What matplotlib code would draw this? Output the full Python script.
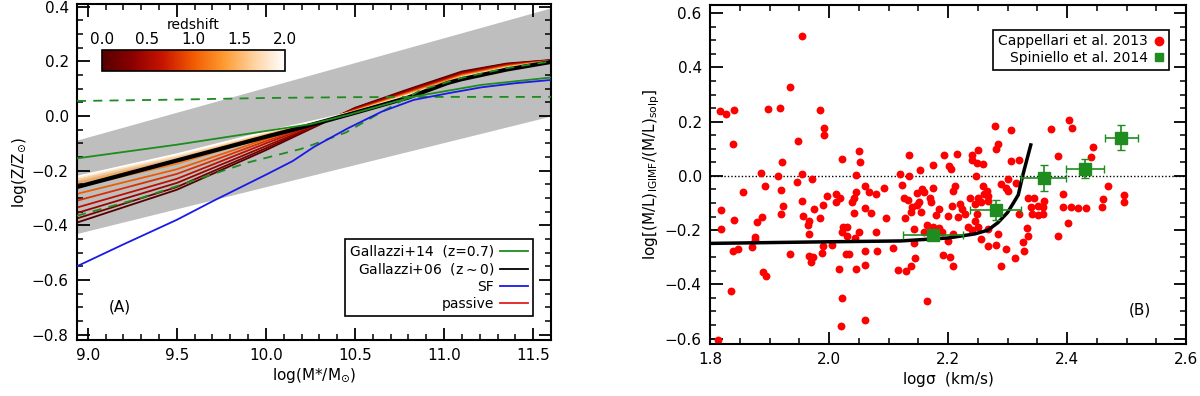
import numpy as np
import matplotlib
matplotlib.use('Agg')
import matplotlib.pyplot as plt
from matplotlib.colors import LinearSegmentedColormap, Normalize
from matplotlib.ticker import MultipleLocator
from matplotlib.lines import Line2D

plt.rcParams['font.family'] = 'DejaVu Sans'
plt.rcParams['mathtext.default'] = 'regular'

# ---------------- panel A data ----------------
band_x = [8.94, 11.6]
band_lo = [-0.43, 0.0]
band_hi = [-0.088, 0.396]

gal06_x = [8.94, 9.5, 10.0, 10.19, 10.5, 10.65, 10.8, 11.02, 11.1, 11.35, 11.6]
gal06_y = [-0.26, -0.163, -0.076, -0.044, 0.012, 0.040, 0.068, 0.121, 0.135, 0.17, 0.198]

gal14_x = [8.94, 9.5, 10.0, 10.25, 10.46, 10.83, 11.21, 11.6]
gal14_y = [-0.155, -0.105, -0.055, -0.030, 0.004, 0.071, 0.114, 0.141]

gal14_hi_x = [8.94, 9.5, 10.0, 10.5, 11.0, 11.6]
gal14_hi_y = [0.055, 0.060, 0.066, 0.069, 0.070, 0.070]

gal14_lo_x = [8.94, 9.3, 9.6, 9.9, 10.2, 10.45, 10.65, 10.87, 11.1, 11.35, 11.6]
gal14_lo_y = [-0.365, -0.30, -0.235, -0.17, -0.12, -0.06, 0.015, 0.095, 0.14, 0.175, 0.20]

sf_x = [8.94, 9.2, 9.5, 9.71, 10.0, 10.15, 10.27, 10.46, 10.65, 10.83, 11.02, 11.21, 11.4, 11.6]
sf_y = [-0.55, -0.47, -0.38, -0.309, -0.215, -0.165, -0.113, -0.045, 0.016, 0.059, 0.083, 0.105, 0.12, 0.132]

# passive models, one row per redshift
fan_z = [0.0, 0.2, 0.4, 0.6, 0.8, 1.0, 1.2, 1.4, 1.6, 1.8, 2.0]
fan_x = [8.94, 9.5, 10.0, 10.5, 10.8, 11.1, 11.35, 11.6]
fan_y = [
    [-0.390, -0.270, -0.125, 0.030, 0.098, 0.163, 0.192, 0.205],
    [-0.375, -0.260, -0.118, 0.028, 0.095, 0.160, 0.190, 0.204],
    [-0.355, -0.245, -0.110, 0.026, 0.092, 0.157, 0.188, 0.204],
    [-0.335, -0.230, -0.100, 0.024, 0.089, 0.154, 0.186, 0.203],
    [-0.310, -0.212, -0.092, 0.022, 0.086, 0.151, 0.184, 0.203],
    [-0.285, -0.195, -0.085, 0.020, 0.084, 0.149, 0.182, 0.202],
    [-0.260, -0.175, -0.076, 0.019, 0.082, 0.147, 0.180, 0.202],
    [-0.245, -0.160, -0.068, 0.018, 0.080, 0.145, 0.179, 0.201],
    [-0.235, -0.150, -0.063, 0.017, 0.078, 0.143, 0.177, 0.201],
    [-0.228, -0.145, -0.060, 0.016, 0.076, 0.141, 0.176, 0.200],
    [-0.222, -0.140, -0.058, 0.015, 0.075, 0.140, 0.175, 0.200],
]

# ---------------- panel B data ----------------
capp_x = [1.955, 1.934, 1.817, 1.827, 1.841, 1.898, 1.917, 1.984, 1.992, 1.992, 1.839, 1.947,
          1.921, 1.886, 1.915, 1.955, 1.893, 1.946, 1.972, 1.855, 1.919, 1.818, 1.954, 1.997,
          1.990, 1.922, 1.920, 1.887, 1.879, 1.841, 1.819, 1.956, 1.975, 1.966, 1.965, 1.984,
          1.966, 1.875, 1.875, 1.838, 1.847, 1.871, 1.935, 1.966, 1.973, 1.970, 1.988, 1.990,
          1.889, 1.894, 1.836, 1.813,
          2.021, 2.050, 2.052, 2.046, 2.135, 2.194, 2.174, 2.153, 2.120, 2.134, 2.061, 2.067,
          2.079, 2.093, 2.123, 2.174, 2.156, 2.159, 2.147, 2.170, 2.171, 2.126, 2.132, 2.152,
          2.148, 2.140, 2.138, 2.155, 2.184, 2.179, 2.011, 2.019, 2.011, 2.045, 2.042, 2.038,
          2.042, 2.061, 2.070, 2.096, 2.127, 2.143, 2.159, 2.165, 2.174, 2.184, 2.189, 2.023,
          2.030, 2.021, 2.030, 2.050, 2.044, 2.079, 2.005, 2.028, 2.034, 2.061, 2.081, 2.107,
          2.143, 2.144, 2.137, 2.129, 2.116, 2.017, 2.046, 2.061, 2.022, 2.164, 2.020, 2.061,
          2.192,
          2.279, 2.305, 2.284, 2.280, 2.250, 2.215, 2.240, 2.240, 2.248, 2.259, 2.202, 2.205,
          2.306, 2.319, 2.247, 2.301, 2.315, 2.289, 2.298, 2.301, 2.212, 2.209, 2.259, 2.265,
          2.261, 2.267, 2.251, 2.237, 2.256, 2.245, 2.267, 2.220, 2.206, 2.223, 2.228, 2.200,
          2.217, 2.248, 2.245, 2.234, 2.240, 2.251, 2.267, 2.209, 2.200, 2.267, 2.281, 2.298,
          2.284, 2.256, 2.203, 2.208, 2.289, 2.312, 2.328, 2.326, 2.334, 2.333, 2.319, 2.341,
          2.340, 2.351, 2.359, 2.351, 2.360, 2.345, 2.334, 2.362, 2.373, 2.384, 2.394, 2.394,
          2.385, 2.402,
          2.403, 2.408, 2.444, 2.440, 2.468, 2.460, 2.459, 2.496, 2.496, 2.406, 2.418, 2.431]
capp_y = [0.515, 0.328, 0.239, 0.230, 0.244, 0.245, 0.251, 0.244, 0.176, 0.150, 0.119, 0.130,
          0.051, 0.011, 0.001, 0.006, -0.036, -0.022, -0.013, -0.059, -0.053, -0.125, -0.091, -0.074,
          -0.108, -0.110, -0.141, -0.150, -0.169, -0.164, -0.197, -0.147, -0.123, -0.165, -0.181, -0.157,
          -0.214, -0.224, -0.235, -0.276, -0.270, -0.263, -0.288, -0.294, -0.300, -0.319, -0.284, -0.257,
          -0.355, -0.368, -0.426, -0.607,
          0.064, 0.093, 0.051, 0.005, 0.076, 0.078, 0.039, 0.022, 0.007, 0.001, -0.037, -0.058,
          -0.067, -0.043, -0.034, -0.043, -0.049, -0.059, -0.064, -0.083, -0.096, -0.082, -0.089, -0.096,
          -0.108, -0.113, -0.135, -0.132, -0.124, -0.143, -0.067, -0.080, -0.098, -0.061, -0.080, -0.098,
          -0.137, -0.118, -0.138, -0.154, -0.156, -0.197, -0.208, -0.180, -0.190, -0.192, -0.208, -0.190,
          -0.190, -0.208, -0.221, -0.206, -0.229, -0.207, -0.255, -0.288, -0.289, -0.278, -0.278, -0.267,
          -0.248, -0.303, -0.333, -0.352, -0.347, -0.343, -0.343, -0.328, -0.450, -0.463, -0.555, -0.533,
          -0.290,
          0.183, 0.168, 0.116, 0.100, 0.097, 0.080, 0.076, 0.058, 0.049, 0.043, 0.037, 0.025,
          0.055, 0.058, 0.000, -0.012, -0.027, -0.031, -0.045, -0.055, -0.037, -0.055, -0.037, -0.055,
          -0.067, -0.074, -0.080, -0.080, -0.098, -0.102, -0.092, -0.102, -0.110, -0.123, -0.141, -0.147,
          -0.153, -0.141, -0.165, -0.190, -0.200, -0.190, -0.196, -0.214, -0.239, -0.257, -0.255, -0.270,
          -0.214, -0.233, -0.300, -0.331, -0.331, -0.304, -0.278, -0.245, -0.222, -0.192, -0.141, -0.141,
          -0.116, -0.112, -0.116, -0.143, -0.141, -0.080, -0.080, -0.092, 0.172, 0.074, -0.067, -0.114,
          -0.221, -0.172,
          0.206, 0.175, 0.107, 0.071, -0.039, -0.086, -0.113, -0.069, -0.098, -0.116, -0.120, -0.119]

spin_x = [2.175, 2.280, 2.361, 2.430, 2.491]
spin_y = [-0.218, -0.126, -0.008, 0.027, 0.141]
spin_xerr = [0.05, 0.043, 0.038, 0.032, 0.028]
spin_yerr = [0.02, 0.036, 0.047, 0.036, 0.047]

igimf_x = [1.80, 2.00, 2.12, 2.20, 2.245, 2.267, 2.284, 2.300, 2.312, 2.318, 2.326, 2.339]
igimf_y = [-0.249, -0.243, -0.240, -0.229, -0.214, -0.200, -0.172, -0.135, -0.092, -0.070, 0.006, 0.114]

zcmap = LinearSegmentedColormap.from_list(
    'zmap', ['#550000', '#8b0000', '#c81400', '#f05a00', '#ff9a30', '#ffd2a0', '#ffffff'])

green = '#1e8c1e'

def style_axes(ax):
    for s in ax.spines.values():
        s.set_linewidth(1.5)
    ax.tick_params(which='both', direction='in', top=True, right=True, labelsize=11, pad=6)
    ax.tick_params(which='major', length=9, width=1.3)
    ax.tick_params(which='minor', length=4.5, width=1.1)

fig = plt.figure(figsize=(12, 3.96), dpi=100)

# ---------------- panel A ----------------
axA = fig.add_axes([0.0642, 0.1414, 0.395, 0.8485])
axA.fill_between(band_x, band_lo, band_hi, color='#bebebe', lw=0, zorder=1)
norm = Normalize(0, 2)
for z, row in zip(fan_z, fan_y):
    axA.plot(fan_x, row, color=zcmap(norm(z)), lw=1.3, zorder=2)
axA.plot(gal06_x, gal06_y, color='black', lw=3, zorder=4)
axA.plot(gal14_x, gal14_y, color=green, lw=1.3, zorder=5)
axA.plot(gal14_hi_x, gal14_hi_y, color=green, lw=1.3, ls=(0, (5, 4)), zorder=5)
axA.plot(gal14_lo_x, gal14_lo_y, color=green, lw=1.3, ls=(0, (5, 4)), zorder=5)
axA.plot(sf_x, sf_y, color='#1a1ae6', lw=1.3, zorder=5)
axA.set_xlim(8.94, 11.6)
axA.set_ylim(-0.82, 0.41)
axA.xaxis.set_major_locator(MultipleLocator(0.5))
axA.xaxis.set_minor_locator(MultipleLocator(0.1))
axA.yaxis.set_major_locator(MultipleLocator(0.2))
axA.yaxis.set_minor_locator(MultipleLocator(0.05))
axA.xaxis.set_major_formatter(matplotlib.ticker.FormatStrFormatter('%.1f'))
axA.yaxis.set_major_formatter(matplotlib.ticker.FuncFormatter(
    lambda v, p: ('%.1f' % v).replace('-', '\u2212')))
style_axes(axA)
axA.set_xlabel(r'log(M*/M$_{\odot}$)', fontsize=11, labelpad=2)
axA.set_ylabel(r'log(Z/Z$_{\odot}$)', fontsize=11, labelpad=2)
axA.text(9.18, -0.70, '(A)', fontsize=11, ha='center', va='center')

handles = [Line2D([], [], color=green, lw=1.3),
           Line2D([], [], color='black', lw=1.3),
           Line2D([], [], color='#1a1ae6', lw=1.3),
           Line2D([], [], color='#e02020', lw=1.3)]
labels = ['Gallazzi+14  (z=0.7)', r'Gallazzi+06  (z$\sim$0)', 'SF', 'passive']
legA = axA.legend(handles, labels, loc='lower right', bbox_to_anchor=(0.977, 0.05),
                  markerfirst=False, fontsize=10, frameon=True, fancybox=False,
                  edgecolor='black', framealpha=1, handlelength=2.0, handletextpad=0.4,
                  labelspacing=0.2, borderpad=0.4)
legA.get_frame().set_linewidth(1.2)
for t in legA.get_texts():
    t.set_ha('right')

# colorbar inset
cax = fig.add_axes([0.0847, 0.8207, 0.1528, 0.053])
cb = matplotlib.colorbar.ColorbarBase(cax, cmap=zcmap, norm=norm, orientation='horizontal')
cb.set_ticks([0.0, 0.5, 1.0, 1.5, 2.0])
cb.set_ticklabels(['0.0', '0.5', '1.0', '1.5', '2.0'])
cax.xaxis.set_ticks_position('top')
cax.xaxis.set_label_position('top')
cax.tick_params(length=0, labelsize=11, pad=2)
cb.outline.set_linewidth(1.2)
cax.set_xlabel('redshift', fontsize=10, labelpad=2)

# ---------------- panel B ----------------
axB = fig.add_axes([0.5917, 0.1313, 0.3967, 0.856])
axB.axhline(0.0, color='black', lw=1.0, ls=(0, (1, 1.5)), zorder=1)
axB.scatter(capp_x, capp_y, s=32, color='#ff0000', lw=0, zorder=2)
axB.plot(igimf_x, igimf_y, color='black', lw=2.5, zorder=3)
axB.errorbar(spin_x, spin_y, xerr=spin_xerr, yerr=spin_yerr, fmt='s', ms=9, color=green,
             ecolor=green, elinewidth=1.2, capsize=3, zorder=4)
axB.set_xlim(1.8, 2.6)
axB.set_ylim(-0.62, 0.63)
axB.xaxis.set_major_locator(MultipleLocator(0.2))
axB.xaxis.set_minor_locator(MultipleLocator(0.05))
axB.yaxis.set_major_locator(MultipleLocator(0.2))
axB.yaxis.set_minor_locator(MultipleLocator(0.05))
axB.xaxis.set_major_formatter(matplotlib.ticker.FormatStrFormatter('%.1f'))
axB.yaxis.set_major_formatter(matplotlib.ticker.FuncFormatter(
    lambda v, p: ('%.1f' % v).replace('-', '\u2212')))
style_axes(axB)
axB.set_xlabel(r'log$\sigma$  (km/s)', fontsize=11, labelpad=2)
axB.set_ylabel(r'log[(M/L)$_{\rm IGIMF}$/(M/L)$_{\rm solp}$]', fontsize=11, labelpad=2)
axB.text(2.523, -0.496, '(B)', fontsize=11, ha='center', va='center')

hB = [Line2D([], [], color='#ff0000', marker='o', ls='none', ms=6),
      Line2D([], [], color=green, marker='s', ls='none', ms=6)]
legB = axB.legend(hB, ['Cappellari et al. 2013', 'Spiniello et al. 2014'], loc='upper right',
                  bbox_to_anchor=(0.979, 0.948), markerfirst=False, fontsize=10,
                  frameon=True, fancybox=False, edgecolor='black', framealpha=1,
                  handlelength=0.8, handletextpad=0.4, labelspacing=0.2, borderpad=0.35)
legB.get_frame().set_linewidth(1.2)
for t in legB.get_texts():
    t.set_ha('right')

fig.savefig('out.png', dpi=100)
